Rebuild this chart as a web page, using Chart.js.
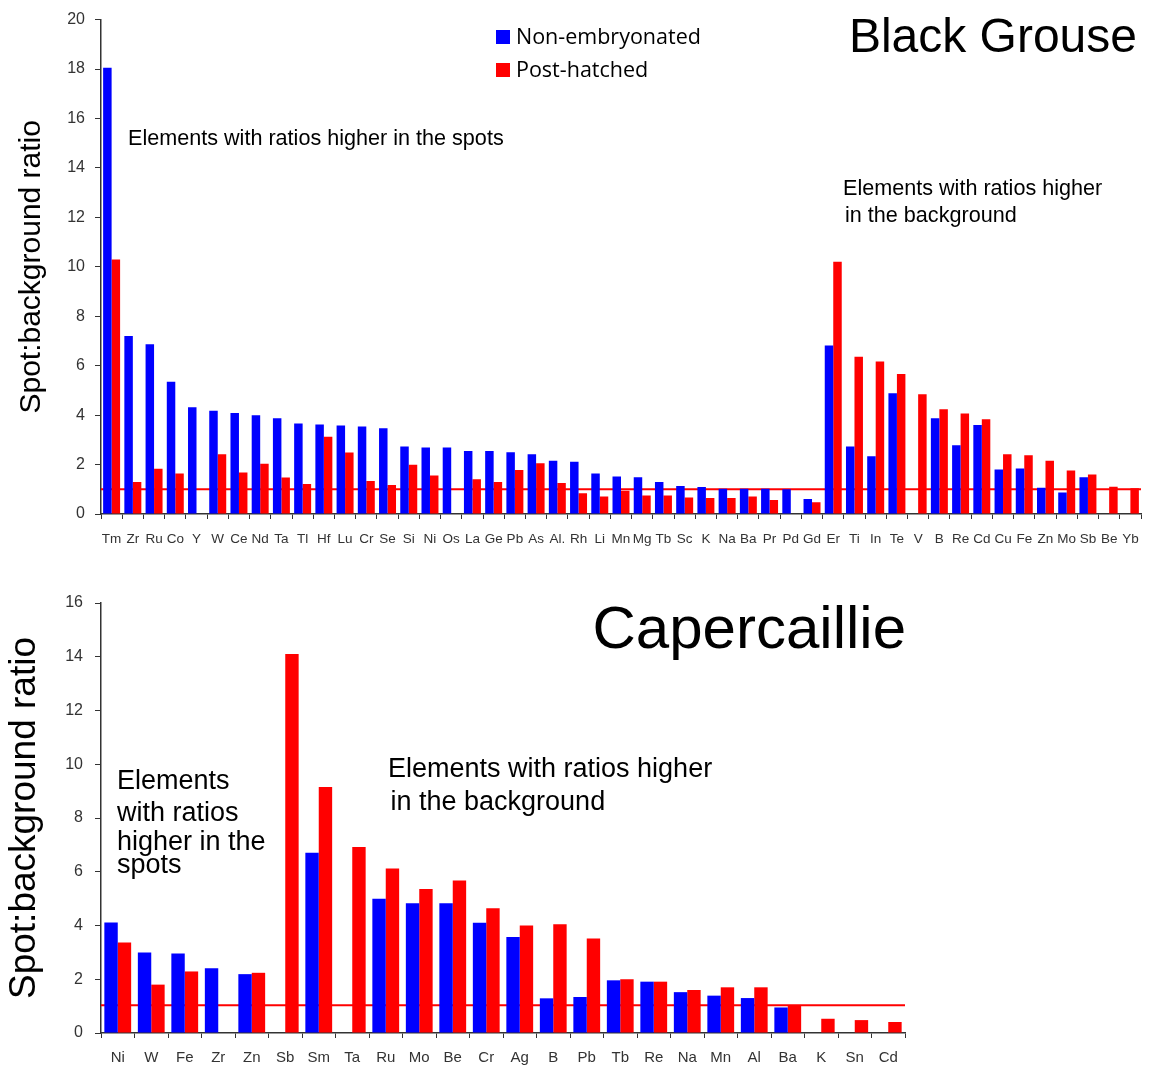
<!DOCTYPE html>
<html>
<head>
<meta charset="utf-8">
<script src="https://cdn.jsdelivr.net/npm/chart.js@4.4.0/dist/chart.umd.min.js"></script>
<style>
    html, body { margin: 0; padding: 0; background: #fff; }
    #wrap { position: relative; width: 1155px; height: 1067px; }
    canvas { position: absolute; left: 0; }
    #grouse { top: 0; }
    #caper { top: 560px; }
</style>
</head>
<body>
<div id="wrap">
    <canvas id="grouse" width="1155" height="560"></canvas>
    <canvas id="caper" width="1155" height="507"></canvas>
</div>
<script>
// ------------------ DADOS: BLACK GROUSE ------------------
const grouseElements = ["Tm", "Zr", "Ru", "Co", "Y", "W", "Ce", "Nd", "Ta", "Tl", "Hf", "Lu", "Cr", "Se", "Si", "Ni", "Os",
    "La", "Ge", "Pb", "As", "Al.", "Rh", "Li", "Mn", "Mg", "Tb", "Sc", "K", "Na", "Ba", "Pr", "Pd", "Gd",
    "Er", "Ti", "In", "Te", "V", "B", "Re", "Cd", "Cu", "Fe", "Zn", "Mo", "Sb", "Be", "Yb"];
const grouseNonEmbryonated = [18.05, 7.2, 6.87, 5.35, 4.32, 4.18, 4.09, 3.99, 3.87, 3.66, 3.62, 3.58, 3.54, 3.47, 2.73, 2.69, 2.69,
    2.55, 2.55, 2.5, 2.42, 2.15, 2.11, 1.64, 1.52, 1.49, 1.29, 1.13, 1.09, 1.02, 1.02, 1.02, 1.0, 0.61,
    6.82, 2.73, 2.34, 4.88, null, 3.87, 2.78, 3.6, 1.8, 1.84, 1.06, 0.87, 1.49, null, null];
const grousePostHatched = [10.3, 1.29, 1.83, 1.64, null, 2.42, 1.68, 2.03, 1.48, 1.21, 3.12, 2.49, 1.33, 1.17, 1.99, 1.56, null,
    1.41, 1.29, 1.78, 2.05, 1.25, 0.84, 0.71, 0.94, 0.75, 0.75, 0.67, 0.65, 0.65, 0.71, 0.57, null, 0.48,
    10.2, 6.36, 6.17, 5.66, 4.84, 4.24, 4.07, 3.83, 2.42, 2.38, 2.15, 1.76, 1.6, 1.1, 1.04];
const grouseYMax = 20;
const grouseRefLine = 1.0;

// ------------------ DADOS: CAPERCAILLIE ------------------
const caperElements = ["Ni", "W", "Fe", "Zr", "Zn", "Sb", "Sm", "Ta", "Ru", "Mo", "Be", "Cr",
    "Ag", "B", "Pb", "Tb", "Re", "Na", "Mn", "Al", "Ba", "K", "Sn", "Cd"];
const caperNonEmbryonated = [4.11, 3.0, 2.96, 2.41, 2.19, null, 6.71, null, 5.0, 4.83, 4.83, 4.1,
    3.57, 1.29, 1.34, 1.96, 1.91, 1.52, 1.39, 1.3, 0.95, null, null, null];
const caperPostHatched = [3.37, 1.8, 2.29, null, 2.24, 14.1, 9.15, 6.92, 6.12, 5.36, 5.67, 4.64,
    4.0, 4.05, 3.52, 2.0, 1.91, 1.6, 1.7, 1.7, 1.04, 0.53, 0.48, 0.41];
const caperYMax = 16;
const caperRefLine = 1.03;

const seriesNames = ["Non-embryonated", "Post-hatched"];
const BLUE = "#0000ff";
const RED = "#ff0000";
const AXIS = "#333333";
const ARIAL = "'Liberation Sans', Arial, sans-serif";

// ------------------ PLUGIN: LINHA DE REFERÊNCIA (atrás das barras) ------------------
const refLinePlugin = {
    id: "refLine",
    beforeDatasetsDraw(chart, args, opts) {
        const { ctx, chartArea, scales } = chart;
        const y = scales.y.getPixelForValue(opts.value);
        ctx.save();
        ctx.strokeStyle = RED;
        ctx.lineWidth = 2;
        ctx.beginPath();
        ctx.moveTo(chartArea.left, y);
        ctx.lineTo(chartArea.right, y);
        ctx.stroke();
        ctx.restore();
    }
};

// ------------------ PLUGIN: TEXTOS E LEGENDA ------------------
const notesPlugin = {
    id: "notes",
    afterDraw(chart, args, opts) {
        const ctx = chart.ctx;
        ctx.save();
        ctx.textBaseline = "alphabetic";
        (opts.texts || []).forEach(t => {
            ctx.font = t.font;
            ctx.fillStyle = "#000";
            ctx.textAlign = t.align || "left";
            ctx.fillText(t.text, t.x, t.y);
        });
        (opts.legend || []).forEach(l => {
            ctx.fillStyle = l.color;
            ctx.fillRect(l.x, l.y, 14, 14);
            ctx.font = l.font;
            ctx.fillStyle = "#000";
            ctx.textAlign = "left";
            ctx.fillText(l.text, l.x + 20, l.y + 14);
        });
        ctx.restore();
    }
};

// ------------------ FUNÇÃO DE CRIAR O GRÁFICO ------------------
function createRatioChart(canvas, labels, blue, red, cfg) {
    return new Chart(canvas, {
        type: "bar",
        data: {
            labels: labels,
            datasets: [
                { label: seriesNames[0], data: blue, backgroundColor: BLUE, borderWidth: 0 },
                { label: seriesNames[1], data: red, backgroundColor: RED, borderWidth: 0 }
            ]
        },
        options: {
            responsive: false,
            animation: false,
            datasets: { bar: { categoryPercentage: 0.8, barPercentage: 1.0 } },
            layout: { padding: { left: 0, right: cfg.padRight, top: cfg.padTop, bottom: 0 } },
            scales: {
                x: {
                    grid: { drawOnChartArea: false, tickLength: 5, color: AXIS, offset: true },
                    border: { color: AXIS, width: 1.5 },
                    ticks: {
                        autoSkip: false, maxRotation: 0, color: AXIS, padding: cfg.xPad,
                        font: { family: ARIAL, size: cfg.xFont }
                    },
                    afterFit: s => { s.height = cfg.xHeight; }
                },
                y: {
                    min: 0, max: cfg.yMax,
                    grid: { drawOnChartArea: false, tickLength: 6, color: AXIS },
                    border: { color: AXIS, width: 1.5 },
                    ticks: { stepSize: 2, color: AXIS, padding: cfg.yPad, font: { family: ARIAL, size: cfg.yFont } },
                    title: {
                        display: true, text: "Spot:background ratio", color: "#000",
                        font: { family: ARIAL, size: cfg.titleFont }, padding: { top: cfg.titlePad, bottom: 0 }
                    },
                    afterFit: s => { s.width = 101; }
                }
            },
            plugins: {
                legend: { display: false },
                tooltip: { enabled: false },
                refLine: { value: cfg.refLine },
                notes: { texts: cfg.texts, legend: cfg.legend }
            }
        },
        plugins: [refLinePlugin, notesPlugin]
    });
}

createRatioChart(document.getElementById("grouse"), grouseElements, grouseNonEmbryonated, grousePostHatched, {
    yMax: grouseYMax, refLine: grouseRefLine,
    padTop: 19, padRight: 14, xHeight: 46, xPad: 12, xFont: 13.5, yPad: 10, yFont: 16,
    titleFont: 30, titlePad: 14,
    texts: [
        { text: "Black Grouse", x: 1137, y: 52, font: "48px " + ARIAL, align: "right" },
        { text: "Elements with ratios higher in the spots", x: 128, y: 145, font: "21.6px " + ARIAL },
        { text: "Elements with ratios higher", x: 843, y: 195, font: "21.6px " + ARIAL },
        { text: " in the background", x: 839, y: 222, font: "21.6px " + ARIAL }
    ],
    legend: [
        { text: seriesNames[0], x: 496, y: 30, color: BLUE, font: "21.5px 'Open Sans', sans-serif" },
        { text: seriesNames[1], x: 496, y: 63, color: RED, font: "21.5px 'Open Sans', sans-serif" }
    ]
});

createRatioChart(document.getElementById("caper"), caperElements, caperNonEmbryonated, caperPostHatched, {
    yMax: caperYMax, refLine: caperRefLine,
    padTop: 43, padRight: 250, xHeight: 34, xPad: 11, xFont: 15, yPad: 12, yFont: 16,
    titleFont: 37, titlePad: 3,
    texts: [
        { text: "Capercaillie", x: 906, y: 88, font: "60px " + ARIAL, align: "right" },
        { text: "Elements", x: 117, y: 229, font: "27px " + ARIAL },
        { text: "with ratios", x: 117, y: 261, font: "27px " + ARIAL },
        { text: "higher in the", x: 117, y: 290, font: "27px " + ARIAL },
        { text: "spots", x: 117, y: 313, font: "27px " + ARIAL },
        { text: "Elements with ratios higher", x: 388, y: 217, font: "27px " + ARIAL },
        { text: " in the background", x: 383, y: 250, font: "27px " + ARIAL }
    ],
    legend: []
});
</script>
</body>
</html>
